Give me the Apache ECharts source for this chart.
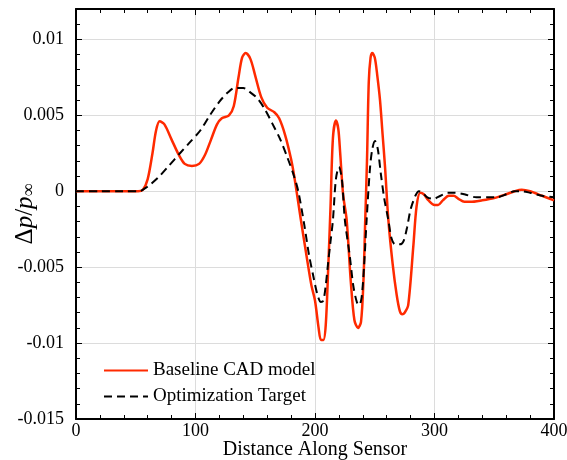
<!DOCTYPE html>
<html>
<head>
<meta charset="UTF-8">
<title>Delta p chart</title>
<script src="https://cdn.jsdelivr.net/npm/echarts@6/dist/echarts.min.js"></script>
<style>
  body { margin: 0; background: #fff; }
  #main { width: 567px; height: 460px; }
</style>
</head>
<body>
<div id="main"></div>
<script type="text/javascript">
// baseline CAD model (red, solid)
var baseX = [0, 20, 40, 52, 56, 60, 64, 67, 70, 74, 80, 86, 91, 97, 103, 108, 113, 118, 122, 128, 132, 136, 139, 142, 146, 150, 155, 160, 166, 170, 175, 180, 183, 188, 193, 197, 200, 203, 205, 207, 209, 211, 213, 215, 217.5, 219.5, 221, 223.5, 226.5, 230, 233, 236, 238.5, 240.5, 242, 243.5, 245, 246.5, 248, 250, 252, 254.4, 256.5, 258.6, 261.4, 265, 268.3, 271, 273, 275, 278, 282.3, 285, 288, 291, 295, 300, 303, 307, 312, 316, 320, 325, 330, 340, 350, 360, 367, 373, 380, 390, 400];
var baseY = [0, 0, 0, 0, 0.0001, 0.0008, 0.0025, 0.0040, 0.0046, 0.0044, 0.0034, 0.0024, 0.0018, 0.00166, 0.0018, 0.0024, 0.0034, 0.0044, 0.0048, 0.0050, 0.0056, 0.0075, 0.0088, 0.0091, 0.0087, 0.0076, 0.0062, 0.0055, 0.0052, 0.0048, 0.0037, 0.0021, 0.0008, -0.0018, -0.0043, -0.0062, -0.0072, -0.0090, -0.0098, -0.0098, -0.0088, -0.0052, -0.0010, 0.0035, 0.00465, 0.0041, 0.0026, -0.0002, -0.0019, -0.0060, -0.0085, -0.0090, -0.0086, -0.0060, -0.0020, 0.0020, 0.0072, 0.0088, 0.0091, 0.0088, 0.0077, 0.0060, 0.0038, 0.0016, -0.0019, -0.0048, -0.0068, -0.0079, -0.0081, -0.0080, -0.0075, -0.0036, -0.0010, -0.0001, -0.0002, -0.0006, -0.0009, -0.0009, -0.0006, -0.0003, -0.0003, -0.0005, -0.0007, -0.0007, -0.0006, -0.00045, -0.0002, 0.0000, 0.0001, 0.0000, -0.0003, -0.0006];

// optimization target (black, dashed)
var targX = [0, 20, 40, 53, 58, 63, 70, 78, 87, 95, 104, 112, 120, 127, 133, 140, 146, 152, 158, 164, 171, 177, 182, 186, 191, 195, 198.6, 202, 205, 207, 209, 211, 213, 215, 217.5, 220, 222.5, 225, 229, 232, 235, 237, 239, 241, 243.2, 246, 248, 250.2, 252.5, 255, 258, 261.4, 264, 267, 271, 274, 277, 280, 284, 287, 290, 294, 299, 305, 311, 317, 325, 335, 345, 352, 360, 367, 373, 380, 390, 400];
var targY = [0, 0, 0, 0, 0.0002, 0.0005, 0.0010, 0.0017, 0.0025, 0.0032, 0.0040, 0.0050, 0.0059, 0.0065, 0.0068, 0.0068, 0.0065, 0.0061, 0.0054, 0.0045, 0.0034, 0.0022, 0.0011, 0.0000, -0.0022, -0.0042, -0.0056, -0.0068, -0.0073, -0.0072, -0.0062, -0.0047, -0.0033, -0.0019, 0.0008, 0.0016, 0.0008, -0.0019, -0.0042, -0.0062, -0.0073, -0.0075, -0.0070, -0.0050, -0.0019, 0.0015, 0.0028, 0.0033, 0.0028, 0.0012, -0.0005, -0.0019, -0.0031, -0.0035, -0.0035, -0.0033, -0.0024, -0.0012, -0.0003, 0.0000, -0.0001, -0.0004, -0.0005, -0.0003, -0.0001, -0.0001, -0.0002, -0.0004, -0.0004, -0.0004, -0.0002, 0.0000, 0.0000, -0.0001, -0.0003, -0.0004];

var xTicks = [0, 100, 200, 300, 400];
var yTickLabels = ['-0.015', '-0.01', '-0.005', '0', '0.005', '0.01'];

function zip(xs, ys) {
  var out = [];
  for (var i = 0; i < xs.length; i++) {
    out.push([xs[i], ys[i]]);
  }
  return out;
}

var serif = 'Liberation Serif';
var frameLine = { show: true, onZero: false, lineStyle: { color: '#000', width: 2 } };
var inTick = { show: true, inside: true, length: 6, lineStyle: { color: '#000', width: 1 } };
var inMinor = { show: true, splitNumber: 5, length: 4, lineStyle: { color: '#000', width: 1 } };

var myChart = echarts.init(document.getElementById('main'));
var option = {
  backgroundColor: '#fff',
  animation: false,
  grid: { left: 76, right: 13, top: 9, bottom: 41, containLabel: false, outerBoundsMode: 'none' },
  legend: {
    orient: 'vertical',
    left: 98,
    top: 356,
    itemWidth: 44,
    itemHeight: 14,
    itemGap: 7,
    itemStyle: { opacity: 0 },
    textStyle: { fontFamily: serif, fontSize: 19, color: '#000' },
    data: ['Baseline CAD model', 'Optimization Target']
  },
  xAxis: [{
    type: 'value',
    min: 0, max: 400, interval: 100,
    name: 'Distance Along Sensor',
    nameLocation: 'middle',
    nameGap: 21,
    nameMoveOverlap: false,
    nameTextStyle: { fontFamily: serif, fontSize: 20, color: '#000' },
    axisLine: frameLine,
    axisTick: inTick,
    minorTick: inMinor,
    axisLabel: {
      margin: 3, fontFamily: serif, fontSize: 18, color: '#000',
      formatter: function (v) { return xTicks.indexOf(v) >= 0 ? String(v) : ''; }
    },
    splitLine: { show: true, lineStyle: { color: '#dcdcdc', width: 1 } }
  }, {
    type: 'value', position: 'top',
    min: 0, max: 400, interval: 100,
    axisLine: frameLine,
    axisTick: inTick,
    minorTick: inMinor,
    axisLabel: { show: false },
    splitLine: { show: false }
  }],
  yAxis: [{
    type: 'value',
    min: -0.015, max: 0.012, interval: 0.005,
    name: '{d|Δ}{i|p}{d|/}{i|p}{s|∞}',
    nameLocation: 'middle',
    nameGap: 38,
    nameMoveOverlap: false,
    nameTextStyle: {
      rich: {
        d: { fontFamily: serif, fontSize: 25, color: '#000' },
        i: { fontFamily: serif, fontSize: 25, fontStyle: 'italic', color: '#000' },
        s: { fontFamily: serif, fontSize: 18, color: '#000', verticalAlign: 'bottom', padding: [8, 0, 0, 0] }
      }
    },
    axisLine: frameLine,
    axisTick: inTick,
    minorTick: inMinor,
    axisLabel: {
      margin: 12, fontFamily: serif, fontSize: 18, color: '#000',
      showMaxLabel: false,
      formatter: function (v) {
        var s = String(parseFloat(v.toFixed(4)));
        return yTickLabels.indexOf(s) >= 0 ? s : '';
      }
    },
    splitLine: { show: true, lineStyle: { color: '#dcdcdc', width: 1 } }
  }, {
    type: 'value', position: 'right',
    min: -0.015, max: 0.012, interval: 0.005,
    axisLine: frameLine,
    axisTick: inTick,
    minorTick: inMinor,
    axisLabel: { show: false },
    splitLine: { show: false }
  }],
  series: [{
    name: 'Baseline CAD model',
    type: 'line',
    data: zip(baseX, baseY),
    showSymbol: false,
    symbol: 'none',
    smooth: 0.3,
    color: '#ff2a00',
    lineStyle: { color: '#ff2a00', width: 2.5 },
    z: 3
  }, {
    name: 'Optimization Target',
    type: 'line',
    data: zip(targX, targY),
    showSymbol: false,
    symbol: 'none',
    smooth: 0.3,
    color: '#000',
    lineStyle: { color: '#000', width: 2, type: [8, 5] },
    z: 4
  }]
};
myChart.setOption(option);
</script>
</body>
</html>
